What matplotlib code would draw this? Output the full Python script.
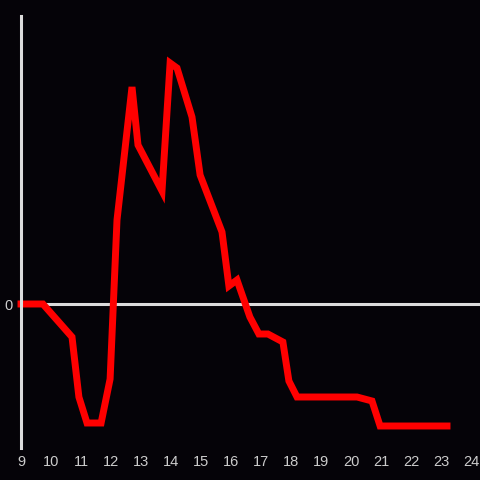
import matplotlib
matplotlib.use("Agg")
import matplotlib.pyplot as plt

# hour of day vs. value (arbitrary units)
hours = [9.0, 9.73, 10.7, 10.93, 11.2, 11.67, 11.97, 12.2, 12.7, 12.9, 13.7,
         13.97, 14.2, 14.7, 14.97, 15.7, 15.93, 16.2, 16.63, 16.93, 17.23,
         17.73, 17.93, 18.2, 20.2, 20.7, 20.97, 23.2]
values = [0, 0, -33, -93, -119, -119, -75, 84, 217, 159, 113,
          241, 236, 187, 129, 72, 18, 24, -13, -30, -30,
          -38, -77, -93, -93, -97, -122, -122]
xticks = list(range(9, 25))

BG = "#050308"
AXIS = "#dcdcdc"

fig = plt.figure(figsize=(4.8, 4.8), dpi=100, facecolor=BG)
ax = fig.add_axes([21 / 480, 32 / 480, 459 / 480, 432 / 480], facecolor=BG)

ax.axhline(0, color=AXIS, lw=2.2, zorder=1)
ax.plot(hours, values, color="#ff0000", lw=5, solid_joinstyle="miter",
        zorder=2, clip_on=False)

ax.set_xlim(9, 9 + 459 / 30)
ax.set_ylim(-144, 288)
ax.set_xticks(xticks)
ax.set_xticklabels([str(t) for t in xticks])
ax.set_yticks([0])
ax.set_yticklabels(["0"])
ax.tick_params(length=0, colors="#cccccc", labelsize=10.5)
ax.tick_params(axis="x", pad=5)
ax.tick_params(axis="y", pad=6)
for lab in ax.get_xticklabels() + ax.get_yticklabels():
    lab.set_family("Liberation Sans")

for side in ("top", "right", "bottom"):
    ax.spines[side].set_visible(False)
ax.spines["left"].set_color(AXIS)
ax.spines["left"].set_linewidth(2.2)

fig.savefig("out.png", dpi=100, facecolor=BG)
